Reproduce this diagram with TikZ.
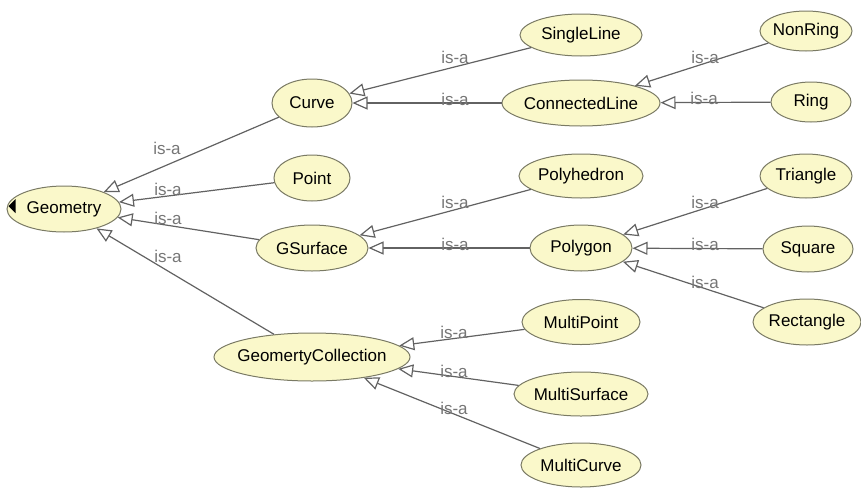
\documentclass[tikz,border=0pt]{standalone}
\usepackage{fontspec}
\setmainfont{Liberation Sans}
\usetikzlibrary{shapes.geometric,arrows.meta}

\definecolor{classfill}{RGB}{250,248,202}
\definecolor{classedge}{RGB}{122,122,100}
\definecolor{linkgray}{RGB}{98,98,98}
\definecolor{labelgray}{RGB}{118,118,118}

\begin{document}
\begin{tikzpicture}[x=1pt,y=-1pt,
  cls/.style={ellipse, draw=classedge, line width=1pt, fill=classfill,
    inner xsep=-25pt, inner ysep=-6pt, text=black,
    font=\fontsize{17}{20}\selectfont},
  isa/.style={draw=linkgray, line width=1.2pt,
    -{Triangle[open,length=15pt,width=13pt]}},
  lbl/.style={text=labelgray, inner sep=0pt, font=\fontsize{17}{20}\selectfont}]

\useasboundingbox (0,0) rectangle (861,490);

% class nodes
\node[cls, minimum width=114pt, minimum height=46pt] (geometry) at (64,209) {Geometry};

\node[cls, minimum width=80pt,  minimum height=48pt] (curve)   at (312,103) {Curve};
\node[cls, minimum width=76pt,  minimum height=46pt] (point)   at (312,178) {Point};
\node[cls, minimum width=112pt, minimum height=46pt] (gsurf)   at (312,248) {GSurface};
\node[cls, minimum width=196pt, minimum height=48pt] (gcoll)   at (312,357) {GeomertyCollection};

\node[cls, minimum width=122pt, minimum height=42pt] (single)  at (581,35)  {SingleLine};
\node[cls, minimum width=158pt, minimum height=46pt] (conn)    at (581,103) {ConnectedLine};
\node[cls, minimum width=124pt, minimum height=44pt] (polyh)   at (581,176) {Polyhedron};
\node[cls, minimum width=102pt, minimum height=46pt] (polyg)   at (581,248) {Polygon};
\node[cls, minimum width=118pt, minimum height=45pt] (mpoint)  at (581,322) {MultiPoint};
\node[cls, minimum width=134pt, minimum height=44pt] (msurf)   at (581,394) {MultiSurface};
\node[cls, minimum width=120pt, minimum height=44pt] (mcurve)  at (581,465) {MultiCurve};

\node[cls, minimum width=92pt,  minimum height=40pt] (nonring) at (806,31)  {NonRing};
\node[cls, minimum width=80pt,  minimum height=40pt] (ring)    at (811,102) {Ring};
\node[cls, minimum width=92pt,  minimum height=44pt] (tri)     at (806,176) {Triangle};
\node[cls, minimum width=90pt,  minimum height=46pt] (square)  at (808,249) {Square};
\node[cls, minimum width=108pt, minimum height=46pt] (rect)    at (807,322) {Rectangle};

% collapse marker on the root class
\fill[black] ([shift={(2,-3)}]geometry.west) -- ++(7,-7) -- ++(0,14) -- cycle;

% is-a links (child -> parent)
\draw[isa] (curve)  -- (geometry);
\draw[isa] (point)  -- (geometry);
\draw[isa] (gsurf)  -- (geometry);
\draw[isa] (gcoll)  -- (geometry);

\draw[isa] (single) -- (curve);
\draw[isa] (conn)   -- (curve);
\draw[isa] (nonring) -- (conn);
\draw[isa] (ring)   -- (conn);

\draw[isa] (polyh)  -- (gsurf);
\draw[isa] (polyg)  -- (gsurf);
\draw[isa] (tri)    -- (polyg);
\draw[isa] (square) -- (polyg);
\draw[isa] (rect)   -- (polyg);

\draw[isa] (mpoint) -- (gcoll);
\draw[isa] (msurf)  -- (gcoll);
\draw[isa] (mcurve) -- (gcoll);

% link labels
\node[lbl] (l-curve)  at (167,148) {is-a};
\node[lbl] (l-point)  at (168,189) {is-a};
\node[lbl] (l-gsurf)  at (168,218) {is-a};
\node[lbl] (l-gcoll)  at (168,256) {is-a};

\node[lbl] (l-single) at (455,57)  {is-a};
\node[lbl] (l-conn)   at (455,99)  {is-a};
\node[lbl] (l-nonring) at (705,57) {is-a};
\node[lbl] (l-ring)   at (704,98)  {is-a};

\node[lbl] (l-polyh)  at (455,202) {is-a};
\node[lbl] (l-polyg)  at (455,244) {is-a};
\node[lbl] (l-tri)    at (705,202) {is-a};
\node[lbl] (l-square) at (705,244) {is-a};
\node[lbl] (l-rect)   at (705,282) {is-a};

\node[lbl] (l-mpoint) at (454,332) {is-a};
\node[lbl] (l-msurf)  at (454,371) {is-a};
\node[lbl] (l-mcurve) at (454,408) {is-a};
\end{tikzpicture}
\end{document}
